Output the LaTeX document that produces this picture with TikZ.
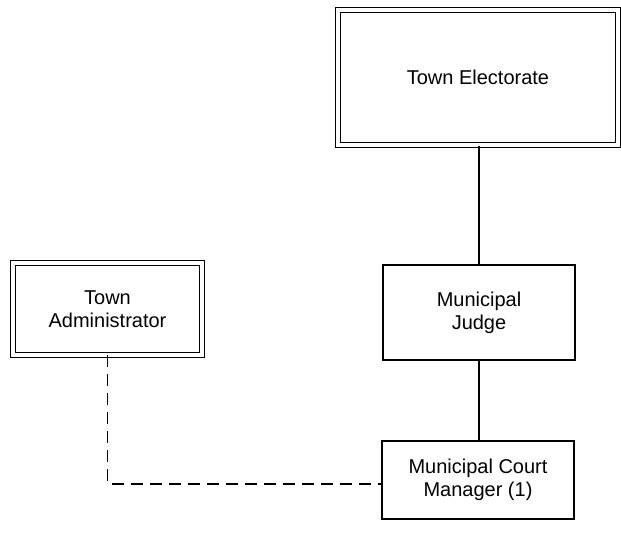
\documentclass[tikz,border=0pt]{standalone}
\usepackage{fontspec}
\setmainfont{Liberation Sans}
\begin{document}
\begin{tikzpicture}[x=1pt,y=-1pt,
  box/.style={draw, line width=1.2pt, rectangle, align=center,
    font=\fontsize{20}{23}\selectfont},
  dbox/.style={box, double, double distance=3.6pt},
  link/.style={line width=1.1pt},
  dlink/.style={line width=1.1pt, dash pattern=on 12pt off 7pt}]
\useasboundingbox (0,0) rectangle (621,535);

\node[dbox, minimum width=279.5pt, minimum height=135pt] (elect) at (478,77.5) {Town Electorate};
\node[dbox, minimum width=188.5pt, minimum height=91.5pt] (admin) at (107.5,309) {Town\\Administrator};
\node[box, minimum width=192pt, minimum height=95pt] (judge) at (479,312.5) {Municipal\\Judge};
\node[box, minimum width=192pt, minimum height=78pt] (mgr) at (478,480) {Municipal Court\\Manager (1)};

\draw[link] (elect.south -| judge.north) -- (judge.north);
\draw[link] (judge.south) -- (judge.south |- mgr.north);
\draw[dlink] (admin.south) |- ([yshift=-4pt]mgr.west);
\end{tikzpicture}
\end{document}
